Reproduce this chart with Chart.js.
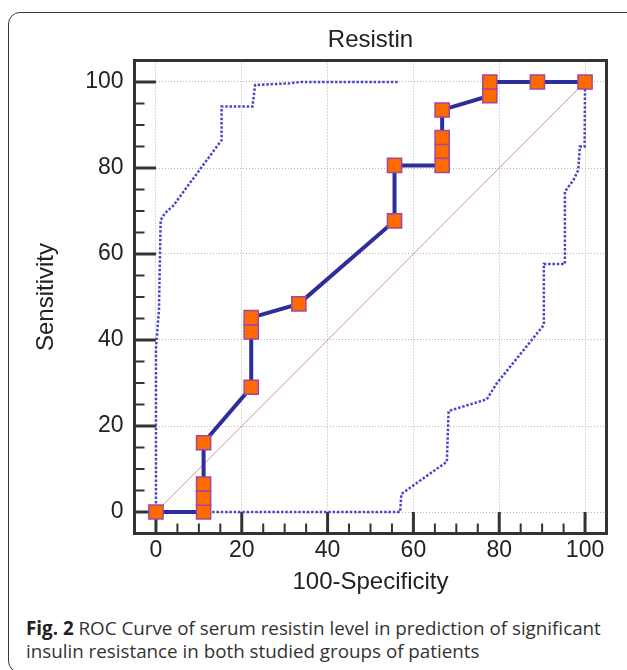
<!DOCTYPE html>
<html>
<head>
<meta charset="utf-8">
<title>Resistin ROC curve</title>
<script src="https://cdn.jsdelivr.net/npm/chart.js@4.4.1/dist/chart.umd.min.js"></script>
<style>
  html, body { margin: 0; padding: 0; background: #fff; overflow: hidden; }
  #page { position: relative; width: 627px; height: 670px; }
  #card { position: absolute; left: 8px; top: 12px; width: 640px; height: 659px;
          border: 1.5px solid #3a3a3a; border-radius: 12px; }
  #c { position: absolute; left: 0; top: 0; }
  #caption { position: absolute; left: 26px; top: 617px; font-family: "Open Sans", sans-serif;
             font-size: 18.8px; line-height: 23px; color: #333; white-space: nowrap; }
  #caption b { color: #222; }
</style>
</head>
<body>
<div id="page">
  <div id="card"></div>
  <canvas id="c" width="627" height="600"></canvas>
  <div id="caption"><b>Fig. 2</b> ROC Curve of serum resistin level in prediction of significant<br>insulin resistance in both studied groups of patients</div>
</div>
<script>
// ROC curve points (100-specificity, sensitivity)
const rocX = [0, 11.1, 11.1, 11.1, 11.1, 22.2, 22.2, 22.2, 33.3, 55.6, 55.6, 66.7, 66.7, 66.7, 66.7, 77.8, 77.8, 88.9, 100];
const rocY = [0, 0, 3.2, 6.5, 16.1, 29.0, 41.9, 45.2, 48.4, 67.7, 80.6, 80.6, 83.9, 87.1, 93.5, 96.8, 100, 100, 100];

// 95% confidence bounds (dotted lines)
const upperX = [0, 0, 0.7, 1.1, 2.1, 4.0, 15.3, 15.3, 22.5, 23.1, 31.2, 33.5, 56.6];
const upperY = [0, 38, 47, 67.9, 69.5, 71.2, 86.5, 94.3, 94.3, 99.3, 99.7, 100, 100];
const lowerX = [11.1, 56.9, 57.2, 67.8, 68.2, 77.1, 79.4, 90.4, 90.4, 95.3, 95.3, 97.3, 98.4, 98.8, 99.9, 100];
const lowerY = [0, 0, 4.2, 11.7, 23.5, 26.2, 29.9, 43.5, 57.7, 57.7, 74.5, 77.2, 79.5, 85, 85, 100];

// chance diagonal
const diagX = [0, 100];
const diagY = [0, 100];

const xTicks = [0, 20, 40, 60, 80, 100];
const yTicks = [0, 20, 40, 60, 80, 100];

function pts(xs, ys) {
    return xs.map((v, i) => ({ x: v, y: ys[i] }));
}

// frame round the plot plus inward tick marks (major every 20, minor every 5)
const frameTicks = {
    id: 'frameTicks',
    beforeDatasetsDraw(chart) {
        const { ctx, chartArea: a, scales: { x, y } } = chart;
        ctx.save();
        ctx.strokeStyle = '#333';
        for (let v = 0; v <= 100; v += 5) {
            const major = v % 20 === 0;
            ctx.lineWidth = major ? 3 : 2;
            const py = y.getPixelForValue(v);
            const px = x.getPixelForValue(v);
            const lenY = major ? x.getPixelForValue(0) - a.left : 10;
            const lenX = major ? a.bottom - y.getPixelForValue(0) : 10;
            ctx.beginPath();
            ctx.moveTo(a.left, py);
            ctx.lineTo(a.left + lenY, py);
            ctx.moveTo(px, a.bottom);
            ctx.lineTo(px, a.bottom - lenX);
            ctx.stroke();
        }
        ctx.lineWidth = 3;
        ctx.strokeRect(a.left, a.top, a.right - a.left, a.bottom - a.top);
        ctx.restore();
    }
};

function noPad(s) {
    s.paddingLeft = 0; s.paddingRight = 0; s.paddingTop = 0; s.paddingBottom = 0;
}

Chart.defaults.font.family = '"Liberation Sans", Arial, sans-serif';
Chart.defaults.color = '#222';

new Chart(document.getElementById('c'), {
    type: 'scatter',
    data: {
        datasets: [{
            label: 'ROC',
            data: pts(rocX, rocY),
            showLine: true,
            borderColor: '#2d2d9c',
            borderWidth: 4,
            pointStyle: 'rect',
            pointRadius: 10,
            pointBackgroundColor: '#ff6a00',
            pointBorderColor: '#a3479b',
            pointBorderWidth: 1.5
        }, {
            label: 'Reference',
            data: pts(diagX, diagY),
            showLine: true,
            borderColor: '#d68f8f',
            borderWidth: 1,
            pointRadius: 0
        }, {
            label: 'Upper 95% CI',
            data: pts(upperX, upperY),
            showLine: true,
            borderColor: '#4848c4',
            borderWidth: 2.5,
            borderDash: [2.5, 1.8],
            pointRadius: 0
        }, {
            label: 'Lower 95% CI',
            data: pts(lowerX, lowerY),
            showLine: true,
            borderColor: '#4848c4',
            borderWidth: 2.5,
            borderDash: [2.5, 1.8],
            pointRadius: 0
        }]
    },
    options: {
        responsive: false,
        animation: false,
        events: [],
        layout: { padding: { left: 0, right: 20.5, top: 0, bottom: 0 } },
        plugins: {
            legend: { display: false },
            tooltip: { enabled: false },
            title: {
                display: true,
                fullSize: false,
                text: 'Resistin',
                font: { size: 24, weight: 'normal' },
                padding: { top: 26.3, bottom: 5.4 }
            }
        },
        scales: {
            x: {
                type: 'linear',
                min: -5,
                max: 105,
                afterBuildTicks: (s) => { s.ticks = xTicks.map(v => ({ value: v })); },
                afterFit: (s) => { s.height = 66.5; noPad(s); },
                grid: { color: '#b5b5b5', lineWidth: 1, drawTicks: false },
                border: { display: false, dash: [1, 2] },
                ticks: { font: { size: 23 }, padding: 3.7 },
                title: {
                    display: true,
                    text: '100-Specificity',
                    font: { size: 24 },
                    padding: { top: 0, bottom: 2.9 }
                }
            },
            y: {
                type: 'linear',
                min: -5,
                max: 105,
                afterBuildTicks: (s) => { s.ticks = yTicks.map(v => ({ value: v })); },
                afterFit: (s) => { s.width = 134.5; noPad(s); },
                grid: { color: '#b5b5b5', lineWidth: 1, drawTicks: false },
                border: { display: false, dash: [1, 2] },
                ticks: { font: { size: 23 }, padding: 11 },
                title: {
                    display: true,
                    text: 'Sensitivity',
                    font: { size: 24 },
                    padding: { top: 32.3, bottom: 0 }
                }
            }
        }
    },
    plugins: [frameTicks]
});
</script>
</body>
</html>
